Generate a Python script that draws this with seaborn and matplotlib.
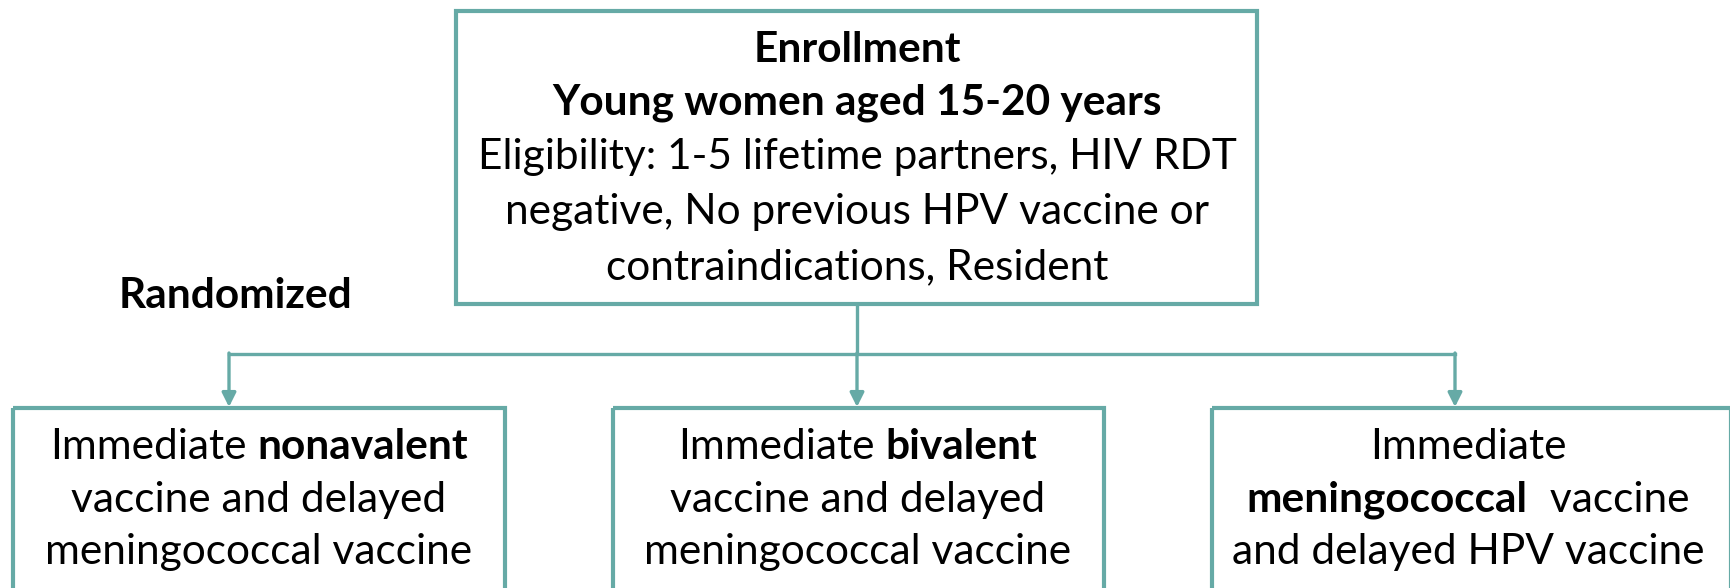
import matplotlib
matplotlib.use("Agg")
import matplotlib.pyplot as plt
import seaborn as sns
from matplotlib.patches import Rectangle

# ---- content ----
top_lines = [
    [("Enrollment", "bold")],
    [("Young women aged 15-20 years", "bold")],
    [("Eligibility: 1-5 lifetime partners, HIV RDT", "normal")],
    [("negative, No previous HPV vaccine or", "normal")],
    [("contraindications, Resident", "normal")],
]
branch_label = "Randomized"
arm_lines = [
    [[("Immediate", "normal"), ("nonavalent", "bold")],
     [("vaccine and delayed", "normal")],
     [("meningococcal vaccine", "normal")]],
    [[("Immediate", "normal"), ("bivalent", "bold")],
     [("vaccine and delayed", "normal")],
     [("meningococcal vaccine", "normal")]],
    [[("Immediate", "normal")],
     [("meningococcal", "bold"), (" vaccine", "normal")],
     [("and delayed HPV vaccine", "normal")]],
]

# ---- layout (pixels) ----
W, H = 1731, 588
TEAL = "#66aaa6"
FONT = "Lato"
FS = 30.5

sns.set_theme(style="white")
plt.rcParams["font.family"] = [FONT, "DejaVu Sans"]

fig = plt.figure(figsize=(W / 100, H / 100), dpi=100)
ax = fig.add_axes([0, 0, 1, 1])
ax.set_xlim(0, W)
ax.set_ylim(H, 0)
ax.axis("off")
renderer = fig.canvas.get_renderer()


def text_width(s, weight):
    t = ax.text(0, 0, s, fontsize=FS, fontweight=weight, family=FONT)
    w = t.get_window_extent(renderer).width
    t.remove()
    return w


space_w = text_width("x x", "normal") - text_width("xx", "normal")


def draw_line(segs, cx, y):
    widths = [text_width(s, wt) for s, wt in segs]
    total = sum(widths) + space_w * (len(segs) - 1)
    x = cx - total / 2
    for (s, wt), w in zip(segs, widths):
        ax.text(x, y, s, fontsize=FS, fontweight=wt, family=FONT,
                ha="left", va="center", color="black")
        x += w + space_w


def box(x0, y0, x1, y1, lw=3.0):
    ax.add_patch(Rectangle((x0, y0), x1 - x0, y1 - y0, fill=False,
                           edgecolor=TEAL, linewidth=lw, clip_on=False))


# top box
box(456, 11, 1257, 304)
top_y = [50, 103, 157, 212, 267]
for segs, y in zip(top_lines, top_y):
    draw_line(segs, 857, y)

# Randomized label
ax.text(119, 296, branch_label, fontsize=FS, fontweight="bold",
        family=FONT, ha="left", va="center", color="black")

# connectors
clw = 2.4
ax.plot([857, 857], [304, 354], color=TEAL, lw=clw, solid_capstyle="butt")
ax.plot([229, 1455], [354, 354], color=TEAL, lw=clw, solid_capstyle="projecting")
arm_x = [229, 857, 1455]
for x in arm_x:
    ax.annotate("", xy=(x, 407), xytext=(x, 353),
                arrowprops=dict(arrowstyle="-|>,head_length=0.7,head_width=0.35",
                                color=TEAL, lw=clw, shrinkA=0, shrinkB=0))

# arm boxes
arm_boxes = [(13, 505), (613, 1104), (1212, 1731)]
arm_cx = [259, 858, 1468]
arm_y = [447, 500, 552]
for (x0, x1), cx, lines in zip(arm_boxes, arm_cx, arm_lines):
    box(x0, 408, x1, 620)
    for segs, y in zip(lines, arm_y):
        draw_line(segs, cx, y)

fig.savefig("out.png", dpi=100)
